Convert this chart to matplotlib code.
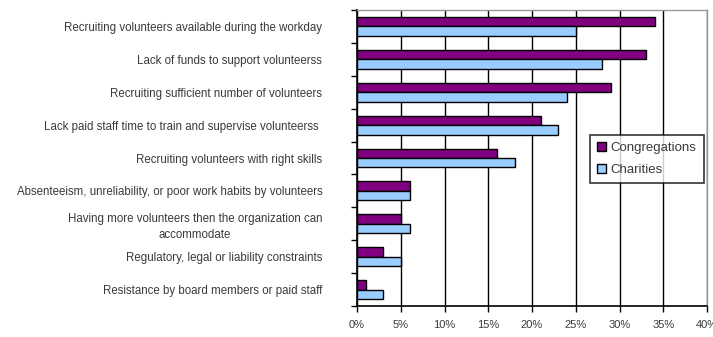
import matplotlib.pyplot as plt
import numpy as np

# survey results: share of organizations reporting each volunteer challenge
challenges = [
    "Recruiting volunteers available during the workday",
    "Lack of funds to support volunteerss",
    "Recruiting sufficient number of volunteers",
    "Lack paid staff time to train and supervise volunteerss ",
    "Recruiting volunteers with right skills",
    "Absenteeism, unreliability, or poor work habits by volunteers",
    "Having more volunteers then the organization can\naccommodate",
    "Regulatory, legal or liability constraints",
    "Resistance by board members or paid staff",
]
congregations = [34, 33, 29, 21, 16, 6, 5, 3, 1]
charities = [25, 28, 24, 23, 18, 6, 6, 5, 3]
pct_ticks = [0, 5, 10, 15, 20, 25, 30, 35, 40]

plt.rcParams['font.family'] = ['Liberation Sans', 'DejaVu Sans']

fig = plt.figure(figsize=(7.13, 3.37), dpi=100)
ax = fig.add_axes([357 / 713, 1 - 306 / 337, 350 / 713, 296 / 337])

y = np.arange(len(challenges))
h = 0.286
ax.barh(y - h / 2, congregations, height=h, color='#800080', edgecolor='black',
        linewidth=1, label='Congregations', zorder=3)
ax.barh(y + h / 2, charities, height=h, color='#99CCFF', edgecolor='black',
        linewidth=1, label='Charities', zorder=3)

ax.set_xlim(0, 40)
ax.set_ylim(len(challenges) - 0.5, -0.5)

ax.set_xticks(pct_ticks)
ax.set_xticklabels([f"{t}%" for t in pct_ticks], fontsize=8, color='#3a3a3a')
ax.tick_params(axis='x', length=4, width=1, direction='out', pad=6)
ax.xaxis.grid(True, color='black', linewidth=1, zorder=0)

ax.set_yticks(y)
ax.set_yticklabels(challenges, fontsize=8.3, color='#3a3a3a', multialignment='center',
                   linespacing=1.45)
ax.set_yticks(np.arange(len(challenges) + 1) - 0.5, minor=True)
ax.tick_params(axis='y', which='major', length=0, pad=25)
ax.tick_params(axis='y', which='minor', length=4, width=1, direction='out')

for side in ['left', 'bottom']:
    ax.spines[side].set_color('black')
    ax.spines[side].set_linewidth(1.2)
for side in ['top', 'right']:
    ax.spines[side].set_color('#999999')
    ax.spines[side].set_linewidth(1)

leg = ax.legend(loc='upper left', bbox_to_anchor=(590 / 713, 1 - 135 / 337),
                bbox_transform=fig.transFigure, fontsize=9.5, frameon=True,
                fancybox=False, handlelength=0.7, handleheight=0.7,
                handletextpad=0.3, borderpad=0.55, labelspacing=0.7,
                borderaxespad=0)
leg.get_frame().set_edgecolor('black')
leg.get_frame().set_linewidth(1.2)
for t in leg.get_texts():
    t.set_color('#3a3a3a')

fig.savefig('out.png', dpi=100)
